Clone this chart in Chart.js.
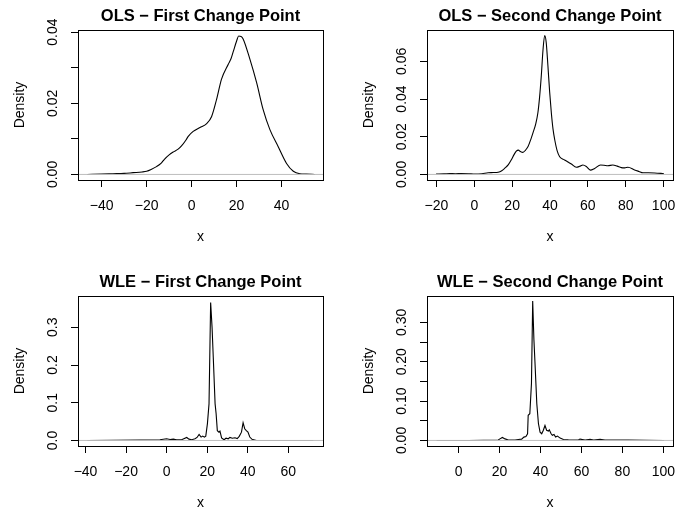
<!DOCTYPE html>
<html>
<head>
<meta charset="utf-8">
<script src="https://cdn.jsdelivr.net/npm/chart.js@4.4.0/dist/chart.umd.min.js"></script>
<style>
  body { margin: 0; background: #fff; width: 691px; height: 515px; overflow: hidden; position: relative; }
  canvas { position: absolute; }
</style>
</head>
<body>
<canvas id="olsFirst" width="342" height="249" style="left:0;top:0"></canvas>
<canvas id="olsSecond" width="342" height="249" style="left:349px;top:0"></canvas>
<canvas id="wleFirst" width="342" height="249" style="left:0;top:266px"></canvas>
<canvas id="wleSecond" width="342" height="249" style="left:349px;top:266px"></canvas>
<script>
// OLS - first change point (density estimate)
const olsFirstX = [-46.4, -40, -35, -30, -26, -22, -20, -18, -15.6, -13.5,
  -12.2, -10, -8.2, -6, -4.4, -2.5, -1.5, 0.7, 3.7, 6.7,
  8.9, 11.1, 13.3, 16.3, 17.5, 18.5, 20, 20.9, 22, 22.9,
  25.9, 28.9, 31.8, 34.8, 38.5, 42.2, 45.2, 48.1, 51, 54.8];
const olsFirstY = [0, 0.0001, 0.0002, 0.0003, 0.0005, 0.0007, 0.0009, 0.0014, 0.0022, 0.0032,
  0.0042, 0.0055, 0.0063, 0.0071, 0.0081, 0.0097, 0.0107, 0.0121, 0.0132, 0.0143,
  0.0163, 0.0211, 0.0268, 0.0310, 0.0325, 0.0345, 0.0375, 0.0389, 0.0388, 0.0381,
  0.0324, 0.0258, 0.0182, 0.0126, 0.0078, 0.0031, 0.0009, 0.0002, 0.0001, 0];

// OLS - second change point
const olsSecondX = [-20.2, -16, -13, -10, -6.8, -3, 0.2, 4, 7.3, 10,
  12.6, 14.5, 16.1, 18, 19.6, 21, 22.2, 23.3, 24.3, 25.7,
  27, 28.4, 30, 31, 32.5, 33.6, 34.5, 35.4, 36.3, 37.2,
  38, 38.9, 39.8, 40.7, 41.6, 42.5, 43.8, 45.1, 47.7, 49.5,
  51.3, 53.9, 55.7, 57.4, 59.2, 61.3, 63.6, 66.7, 68.5, 70.6,
  73.2, 75.5, 77.7, 79.5, 81.2, 84.7, 87, 89.1, 92, 95.3, 100.2];
const olsSecondY = [0.0002, 0.0003, 0.0005, 0.0004, 0.0005, 0.0004, 0.0002, 0.0004, 0.0009, 0.001,
  0.0012, 0.002, 0.0033, 0.0052, 0.0078, 0.0105, 0.0124, 0.0129, 0.0122, 0.0117,
  0.0128, 0.0148, 0.019, 0.022, 0.027, 0.0327, 0.041, 0.0523, 0.066, 0.0737,
  0.070, 0.0576, 0.044, 0.0327, 0.024, 0.0184, 0.0125, 0.0094, 0.0077, 0.0066,
  0.0055, 0.0038, 0.0043, 0.005, 0.0042, 0.0023, 0.0032, 0.005, 0.0049, 0.0046,
  0.005, 0.0044, 0.0036, 0.0035, 0.0038, 0.0024, 0.0016, 0.0009, 0.0009, 0.0008, 0.0004];

// WLE - first change point
const wleFirstX = [-39.1, -13.1, -3.3, 0.0, 1.7, 3.3, 4.9, 7.4, 9.9, 11.0,
  12.4, 14.0, 15.0, 16.0, 17.0, 17.8, 18.6, 19.3, 20.1, 20.9,
  21.7, 22.4, 23.0, 23.9, 24.4, 25.0, 25.8, 26.3, 27.1, 28.3,
  29.3, 30.4, 31.2, 32.4, 33.7, 34.8, 35.8, 36.9, 37.7, 38.5,
  39.3, 40.1, 41.0, 42.1, 44.3, 72.3];
const wleFirstY = [0, 0.001, 0.002, 0.0044, 0.0026, 0.0035, 0.0018, 0.0018, 0.0079, 0.0035,
  0.002, 0.0044, 0.008, 0.016, 0.0088, 0.0115, 0.0088, 0.0115, 0.044, 0.097,
  0.366, 0.30, 0.22, 0.097, 0.071, 0.026, 0.022, 0.025, 0.007, 0.002,
  0.006, 0.0044, 0.008, 0.006, 0.007, 0.005, 0.011, 0.022, 0.047, 0.031,
  0.026, 0.022, 0.009, 0.003, 0, 0];

// WLE - second change point
const wleSecondX = [-10.7, 5, 19.4, 20.2, 21.4, 22.7, 24.3, 27.6, 29.2, 30.8,
  31.9, 32.9, 33.7, 34.0, 34.8, 35.6, 36.2, 36.8, 37.3, 38.2,
  39.0, 39.8, 40.6, 41.4, 42.2, 43.0, 43.9, 44.3, 45.2, 45.8,
  46.6, 47.4, 48.3, 49.6, 51.2, 53.6, 58.5, 59.3, 61.8, 64.2,
  66, 69.1, 71.5, 82.9, 100.3];
const wleSecondY = [0, 0, 0.001, 0.004, 0.0077, 0.004, 0.001, 0.001, 0.0026, 0.0034,
  0.0085, 0.010, 0.017, 0.064, 0.068, 0.145, 0.354, 0.256, 0.200, 0.094,
  0.043, 0.021, 0.017, 0.026, 0.038, 0.026, 0.024, 0.027, 0.017, 0.013,
  0.015, 0.0085, 0.011, 0.006, 0.0026, 0.0017, 0.001, 0.0034, 0.001, 0.0026,
  0.001, 0.0026, 0.001, 0.001, 0];

// axis ranges and ticks
const olsFirstXLim = [-50.5, 58.4], olsFirstYLim = [-0.00156, 0.0406];
const olsSecondXLim = [-25, 105], olsSecondYLim = [-0.00295, 0.0766];
const wleFirstXLim = [-43.7, 77.1], wleFirstYLim = [-0.0147, 0.383];
const wleSecondXLim = [-15.4, 104.7], wleSecondYLim = [-0.0141, 0.367];

const olsFirstXTicks = [-40, -20, 0, 20, 40];
const olsFirstXLabels = ['−40', '−20', '0', '20', '40'];
const olsFirstYTicks = [0, 0.01, 0.02, 0.03, 0.04];
const olsFirstYLabels = ['0.00', '', '0.02', '', '0.04'];

const olsSecondXTicks = [-20, 0, 20, 40, 60, 80, 100];
const olsSecondXLabels = ['−20', '0', '20', '40', '60', '80', '100'];
const olsSecondYTicks = [0, 0.02, 0.04, 0.06];
const olsSecondYLabels = ['0.00', '0.02', '0.04', '0.06'];

const wleFirstXTicks = [-40, -20, 0, 20, 40, 60];
const wleFirstXLabels = ['−40', '−20', '0', '20', '40', '60'];
const wleFirstYTicks = [0, 0.1, 0.2, 0.3];
const wleFirstYLabels = ['0.0', '0.1', '0.2', '0.3'];

const wleSecondXTicks = [0, 20, 40, 60, 80, 100];
const wleSecondXLabels = ['0', '20', '40', '60', '80', '100'];
const wleSecondYTicks = [0, 0.05, 0.10, 0.15, 0.20, 0.25, 0.30];
const wleSecondYLabels = ['0.00', '', '0.10', '', '0.20', '', '0.30'];

Chart.defaults.font.family = '"Liberation Sans", Arial, sans-serif';
Chart.defaults.color = '#000';

// box around the plot region, like R's bty = "o"
const boxPlugin = {
  id: 'box',
  afterDatasetsDraw(chart) {
    const a = chart.chartArea;
    const ctx = chart.ctx;
    const l = Math.round(a.left - 0.5) + 0.5, r = Math.round(a.right - 0.5) + 0.5;
    const t = Math.round(a.top - 0.5) + 0.5, b = Math.round(a.bottom - 0.5) + 0.5;
    ctx.save();
    ctx.strokeStyle = '#000';
    ctx.lineWidth = 1;
    ctx.strokeRect(l, t, r - l, b - t);
    ctx.restore();
  }
};

function drawPanel(id, title, xs, ys, xLim, yLim, xTicks, xLabels, yTicks, yLabels, smooth, yLabelPad, rightPad) {
  new Chart(document.getElementById(id), {
    type: 'line',
    data: {
      datasets: [
        {
          data: [{ x: xLim[0], y: 0 }, { x: xLim[1], y: 0 }],
          borderColor: '#bebebe',
          borderWidth: 1,
          pointRadius: 0
        },
        {
          data: xs.map((x, i) => ({ x: x, y: ys[i] })),
          borderColor: '#000',
          borderWidth: 1.1,
          pointRadius: 0,
          tension: 0,
          cubicInterpolationMode: smooth ? 'monotone' : 'default'
        }
      ]
    },
    options: {
      responsive: false,
      animation: false,
      events: [],
      layout: { padding: { left: 0, right: rightPad, top: 0, bottom: 0 } },
      plugins: {
        legend: { display: false },
        tooltip: { enabled: false },
        title: {
          display: true,
          text: title,
          fullSize: false,
          color: '#000',
          font: { size: 16.5, weight: 'bold' },
          padding: { top: 6.6, bottom: 3.6 }
        }
      },
      scales: {
        x: {
          type: 'linear',
          min: xLim[0],
          max: xLim[1],
          afterBuildTicks: (s) => { s.ticks = xTicks.map((v) => ({ value: v })); },
          afterFit: (s) => { s.height = 69; },
          ticks: {
            autoSkip: false,
            maxRotation: 0,
            padding: 10.5,
            font: { size: 14 },
            color: '#000',
            callback: (v, i) => xLabels[i]
          },
          grid: { drawOnChartArea: false, tickLength: 7, color: '#000' },
          border: { display: false },
          title: {
            display: true,
            text: 'x',
            color: '#000',
            font: { size: 14 },
            padding: { top: 0, bottom: 3.5 }
          }
        },
        y: {
          type: 'linear',
          min: yLim[0],
          max: yLim[1],
          afterBuildTicks: (s) => { s.ticks = yTicks.map((v) => ({ value: v })); },
          afterFit: (s) => { s.width = 78; },
          ticks: {
            autoSkip: false,
            minRotation: 90,
            maxRotation: 90,
            crossAlign: 'center',
            padding: yLabelPad,
            font: { size: 14 },
            color: '#000',
            callback: (v, i) => yLabels[i]
          },
          grid: { drawOnChartArea: false, tickLength: 7, color: '#000' },
          border: { display: false },
          title: {
            display: true,
            text: 'Density',
            color: '#000',
            font: { size: 14 },
            padding: { top: 12, bottom: 0 }
          }
        }
      }
    },
    plugins: [boxPlugin]
  });
}

drawPanel('olsFirst', 'OLS − First Change Point', olsFirstX, olsFirstY, olsFirstXLim, olsFirstYLim,
  olsFirstXTicks, olsFirstXLabels, olsFirstYTicks, olsFirstYLabels, true, 4.4, 19);
drawPanel('olsSecond', 'OLS − Second Change Point', olsSecondX, olsSecondY, olsSecondXLim, olsSecondYLim,
  olsSecondXTicks, olsSecondXLabels, olsSecondYTicks, olsSecondYLabels, true, 4.4, 18);
drawPanel('wleFirst', 'WLE − First Change Point', wleFirstX, wleFirstY, wleFirstXLim, wleFirstYLim,
  wleFirstXTicks, wleFirstXLabels, wleFirstYTicks, wleFirstYLabels, false, 8.3, 19);
drawPanel('wleSecond', 'WLE − Second Change Point', wleSecondX, wleSecondY, wleSecondXLim, wleSecondYLim,
  wleSecondXTicks, wleSecondXLabels, wleSecondYTicks, wleSecondYLabels, false, 4.4, 18);
</script>
</body>
</html>
